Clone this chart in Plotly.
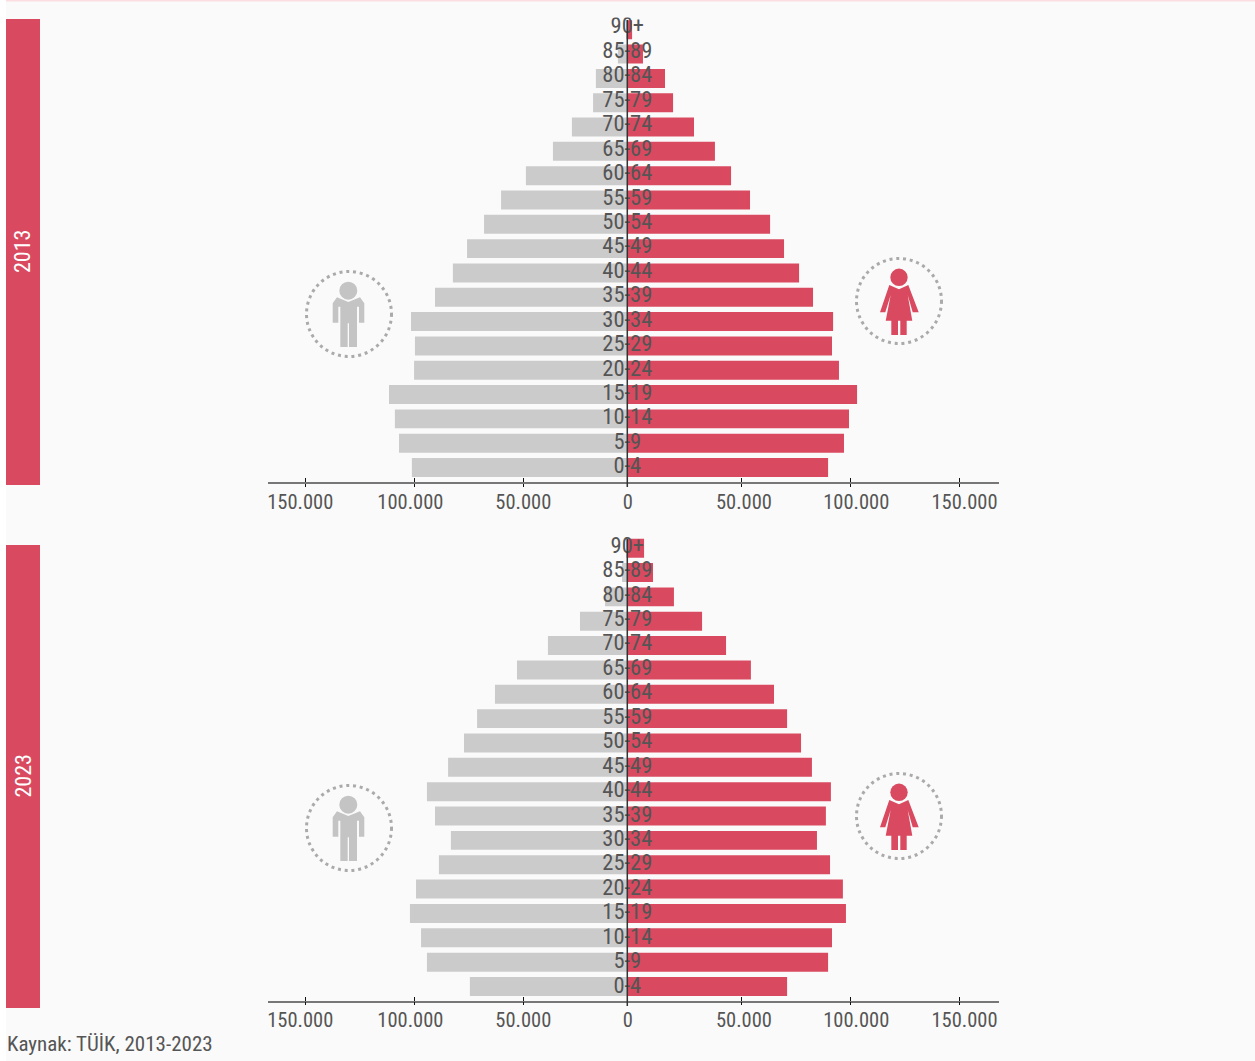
import plotly.graph_objects as go

W, H = 1255, 1061
AGES = ["0-4","5-9","10-14","15-19","20-24","25-29","30-34","35-39","40-44","45-49",
        "50-54","55-59","60-64","65-69","70-74","75-79","80-84","85-89","90+"]
MALE_2013 = [98800,104700,106600,109300,97800,97400,99200,88200,80000,73500,65700,57900,46500,34100,25400,15700,14400,4300,400]
FEMALE_2013 = [92100,99400,101700,105400,97100,93900,94400,85200,78800,71900,65500,56300,47600,40200,30600,21000,17300,7200,2200]
MALE_2023 = [72200,91900,94600,99700,96900,86400,80900,88200,91900,82200,74900,68900,60700,50600,36400,21700,10200,2400,600]
FEMALE_2023 = [73300,92100,93900,100300,98900,93000,87000,91100,93400,84700,79700,73300,67300,56700,45300,34300,21400,11800,7700]
TICK_LABELS = ["150.000","100.000","50.000","0","50.000","100.000","150.000"]
TICK_POS = [-147400,-97400,-47500,0,52300,102300,152200]
LABEL_POS = [-150000,-99500,-47700,200,53500,105000,154700]

RED, GRAY, TXT = "#d94a60", "#cbcbcb", "#555555"
FONT = "Roboto Condensed"
XR = [-164800, 170500]

def px(x): return x / W
def py(y): return 1 - y / H

PANELS = [
    dict(year="2013", male=MALE_2013, female=FEMALE_2013, top=17.6, bottom=482, lo=-0.596, text_range=[-0.583, 18.42],
         rect=(19,485), zero=(20,487), man=(349,314), woman=(899,301), xa="x", xb="x3", ya="y", yt="y3"),
    dict(year="2023", male=MALE_2023, female=FEMALE_2023, top=536, bottom=1000.7, lo=-0.584, text_range=[-0.56, 18.45],
         rect=(545,1008), zero=(539,1006), man=(349,828), woman=(899,816), xa="x2", xb="x4", ya="y2", yt="y4"),
]

MAN = [(-12,-16.7),(-0.7,-12),(11,-16.7),(15.3,-10.7),(15.3,8.7),(10,8.7),(10,-7.3),(8,-7.3),(8,33),
       (0,33),(0,9.3),(-1.3,9.3),(-1.3,33),(-8.7,33),(-8.7,-7.3),(-10.7,-7.3),(-10.7,8.7),(-16.3,8.7),(-16.3,-10.7)]
WOMAN = [(-9.7,-16),(0,-11.7),(9.3,-16),(19.7,11.3),(13.7,11.3),(8.7,-6),(13.3,19.7),(7.7,19.7),(7.7,34),
         (1.3,34),(1.3,19.7),(-1,19.7),(-1,34),(-7.7,34),(-7.7,19.7),(-13.3,19.7),(-8.3,-6),(-13.7,11.3),(-19,11.3)]

def poly(points, cx, cy, color):
    d = "M" + " L".join(f"{px(cx+a):.5f},{py(cy+b):.5f}" for a, b in points) + " Z"
    return dict(type="path", xref="paper", yref="paper", path=d, fillcolor=color, line_width=0)

def circle(cx, cy, r, **kw):
    return dict(type="circle", xref="paper", yref="paper", x0=px(cx-r), x1=px(cx+r), y0=py(cy+r), y1=py(cy-r), **kw)

def icon(points, head, center, color):
    cx, cy = center
    return [
        circle(cx, cy, 42.5, line=dict(color="#aaaaaa", width=3, dash="3px,3.8px")),
        poly(points, cx, cy, color),
        circle(cx+head[0], cy+head[1], head[2], fillcolor=color, line_width=0),
    ]

fig = go.Figure()
shapes = [
    dict(type="rect", xref="paper", yref="paper", x0=px(6), x1=1, y0=0, y1=1, fillcolor="#fafafa", line_width=0, layer="below"),
    dict(type="rect", xref="paper", yref="paper", x0=px(6), x1=1, y0=py(1.5), y1=1, fillcolor="#fbdde2", line_width=0, layer="below"),
]
annotations = []
layout_axes = {}
for p in PANELS:
    xa, xb, ya, yt = p["xa"], p["xb"], p["ya"], p["yt"]
    bar = dict(y=AGES, orientation="h", xaxis=xa, yaxis=ya, hoverinfo="skip", showlegend=False)
    fig.add_trace(go.Bar(x=[-v for v in p["male"]], marker_color=GRAY, marker_line_width=0, **bar))
    fig.add_trace(go.Bar(x=p["female"], marker_color=RED, marker_line_width=0, **bar))
    fig.add_trace(go.Scatter(x=[0]*len(AGES), y=AGES, text=AGES, mode="text", textposition="middle center",
                             textfont=dict(family=FONT, size=22.5, color=TXT), xaxis=xa, yaxis=yt,
                             hoverinfo="skip", showlegend=False))
    fig.add_trace(go.Scatter(x=[0], y=[AGES[0]], mode="markers", marker_opacity=0, xaxis=xb, yaxis=ya,
                             hoverinfo="skip", showlegend=False))
    def nm(a): return "xaxis" + a[1:]
    layout_axes[nm(xa)] = dict(domain=[px(268), px(999)], range=XR, anchor=ya, showgrid=False, zeroline=False,
                               showline=True, linecolor="#777777", linewidth=1.5, showticklabels=False,
                               tickmode="array", tickvals=TICK_POS, ticks="outside", ticklen=3, tickwidth=1, tickcolor="#111111",
                               minor=dict(tickmode="array", tickvals=TICK_POS, ticks="inside", ticklen=4, tickwidth=1, tickcolor="#111111"))
    layout_axes[nm(xb)] = dict(overlaying=xa, anchor=ya, side="bottom", range=XR, showgrid=False, zeroline=False, showline=False,
                               tickmode="array", tickvals=LABEL_POS, ticktext=TICK_LABELS, ticks="", ticklabelstandoff=5,
                               tickfont=dict(family=FONT, size=20.5, color=TXT))
    layout_axes["yaxis" + ya[1:]] = dict(domain=[py(p["bottom"]), py(p["top"])], type="category", categoryorder="array",
                                         categoryarray=AGES, range=[p["lo"], 18.5], visible=False, anchor=xa)
    layout_axes["yaxis" + yt[1:]] = dict(overlaying=ya, type="category", categoryorder="array",
                                         categoryarray=AGES, range=p["text_range"], visible=False, anchor=xa)
    shapes.append(dict(type="rect", xref="paper", yref="paper", x0=px(6), x1=px(40), y0=py(p["rect"][1]), y1=py(p["rect"][0]),
                       fillcolor=RED, line_width=0))
    shapes.append(dict(type="line", xref=xa, yref="paper", x0=0, x1=0, y0=py(p["zero"][1]), y1=py(p["zero"][0]),
                       line=dict(color="#333333", width=1.5), layer="above"))
    shapes += icon(MAN, (-0.7,-23.3,9), p["man"], "#c4c4c4")
    shapes += icon(WOMAN, (0,-23.7,8.7), p["woman"], RED)
    annotations.append(dict(xref="paper", yref="paper", x=px(23), y=py(sum(p["rect"])/2 - 1), text=p["year"], textangle=-90,
                            showarrow=False, font=dict(family=FONT, size=22, color="white"), xanchor="center", yanchor="middle"))

annotations.append(dict(xref="paper", yref="paper", x=px(5), y=py(1044), text="Kaynak: TÜİK, 2013-2023", showarrow=False,
                        xanchor="left", yanchor="middle", font=dict(family=FONT, size=21, color=TXT)))

fig.update_layout(width=W, height=H, margin=dict(l=0, r=0, t=0, b=0, pad=0, autoexpand=False), paper_bgcolor="white", plot_bgcolor="rgba(0,0,0,0)",
                  barmode="overlay", bargap=0.22, showlegend=False, shapes=shapes, annotations=annotations, **layout_axes)
fig.write_html("out.html", config=dict(displayModeBar=False),
               post_script="document.body.style.margin='0';")
